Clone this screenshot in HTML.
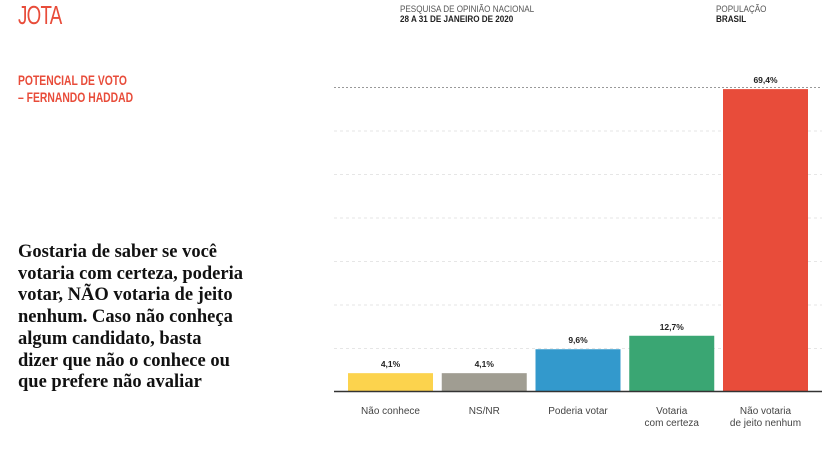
<!DOCTYPE html>
<html><head><meta charset="utf-8"><style>
body{margin:0;width:834px;height:454px;background:#fff;position:relative;overflow:hidden;font-family:"Liberation Sans",sans-serif}
.abs{position:absolute;white-space:nowrap}
</style></head><body>
<div class="abs" style="left:18px;top:0px;font-size:26px;color:#e84c3a;font-weight:300;transform:scaleX(0.72);transform-origin:left;letter-spacing:-1px">JOTA</div>
<div class="abs" style="left:400px;top:4px;font-size:9px;color:#555;transform:scaleX(0.9);transform-origin:left">PESQUISA DE OPINIÃO NACIONAL</div>
<div class="abs" style="left:400px;top:14px;font-size:9px;color:#222;font-weight:bold;transform:scaleX(0.9);transform-origin:left">28 A 31 DE JANEIRO DE 2020</div>
<div class="abs" style="left:716px;top:4px;font-size:9px;color:#555;transform:scaleX(0.9);transform-origin:left">POPULAÇÃO</div>
<div class="abs" style="left:716px;top:14px;font-size:9px;color:#222;font-weight:bold;transform:scaleX(0.9);transform-origin:left">BRASIL</div>
<div class="abs" style="left:18px;top:72px;font-size:14px;line-height:17px;color:#e84c3a;font-weight:bold;transform:scaleX(0.74);transform-origin:left">POTENCIAL DE VOTO<br>– FERNANDO HADDAD</div>
<div class="abs" style="left:18px;top:242px;font-family:'Liberation Serif',serif;font-size:18.5px;line-height:21.7px;font-weight:bold;color:#111">Gostaria de saber se você<br>votaria com certeza, poderia<br>votar, NÃO votaria de jeito<br>nenhum. Caso não conheça<br>algum candidato, basta<br>dizer que não o conhece ou<br>que prefere não avaliar</div>
<svg id="chart" class="abs" style="left:0;top:0" width="834" height="454"></svg>
<script>
const categories=[["Não conhece"],["NS/NR"],["Poderia votar"],["Votaria","com certeza"],["Não votaria","de jeito nenhum"]];
const values=[4.1,4.1,9.6,12.7,69.4];
const valueLabels=["4,1%","4,1%","9,6%","12,7%","69,4%"];
const colors=["#fcd34d","#a09d92","#3399cc","#3aa673","#e84c3a"];
const gridTicks=[10,20,30,40,50,60,70];
const svg=document.getElementById('chart');
const NS='http://www.w3.org/2000/svg';
const x0=334,x1=822,base=391,pxPerUnit=4.35;
const step=93.75,bw=85;
const y=v=>base-v*pxPerUnit;
const xb=i=>348+i*step;
function mk(t,a){const e=document.createElementNS(NS,t);for(const k in a)e.setAttribute(k,a[k]);svg.appendChild(e);return e;}
gridTicks.forEach((t,i)=>{
 const l=mk('line',{x1:x0,x2:x1,y1:y(t)+1,y2:y(t)+1,stroke:i==gridTicks.length-1?'#999':'#e6e6e6','stroke-width':1,'stroke-dasharray':i==gridTicks.length-1?'2,2':'3,3'});
 
 
});
values.forEach((v,i)=>{
 const r=mk('rect',{x:xb(i),y:y(v),width:bw,height:base-y(v),fill:colors[i]});
 
 
 const t=mk('text',{x:xb(i)+bw/2,y:y(v)-6,'text-anchor':'middle','font-size':8.5,'font-weight':'bold',fill:'#222'});
 t.textContent=valueLabels[i];
 
 
 categories[i].forEach((s,j)=>{
  const c=mk('text',{x:xb(i)+bw/2,y:414+j*12,'text-anchor':'middle','font-size':10,fill:'#444'});
  c.textContent=s;
  
  
 });
});
const ax=mk('line',{x1:x0,x2:x1,y1:base+0.5,y2:base+0.5,stroke:'#333','stroke-width':1.5});


</script>
</body></html>
